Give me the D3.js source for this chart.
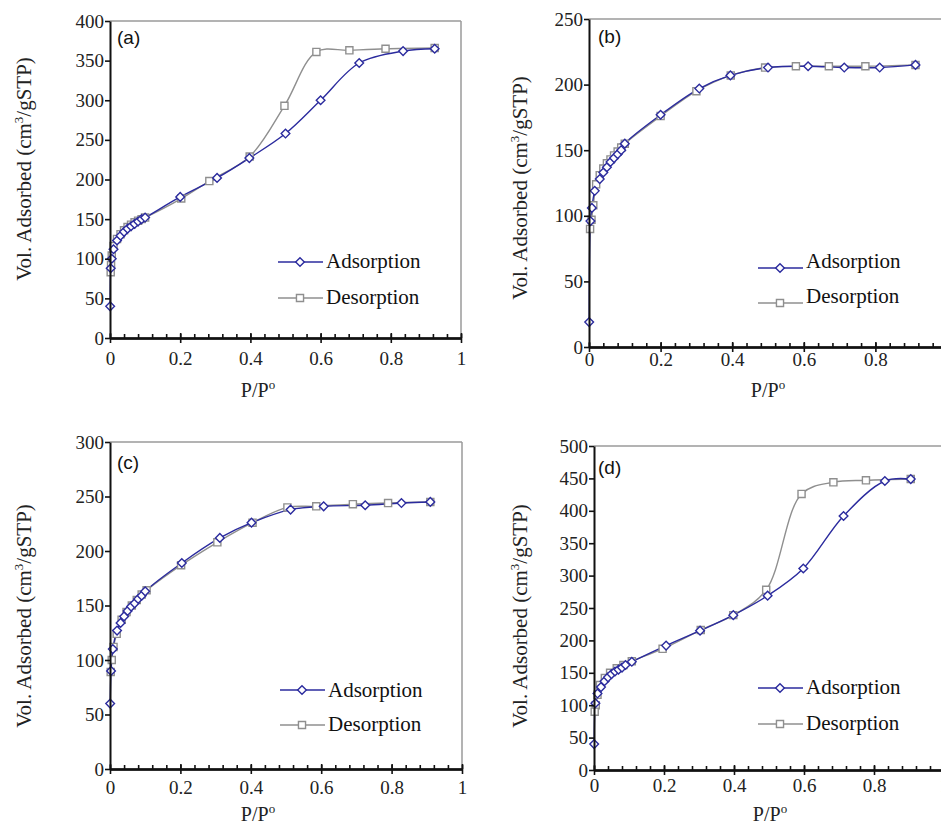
<!DOCTYPE html>
<html>
<head>
<meta charset="utf-8">
<script src="https://cdn.jsdelivr.net/npm/d3@7"></script>
<style>
html,body{margin:0;padding:0;background:#fff;}
svg{display:block;}
</style>
</head>
<body>
<svg id="chart" width="941" height="826"></svg>
<script>
// ---------- DATA ----------
const xTickValues = [0, 0.2, 0.4, 0.6, 0.8, 1];
const xTickLabels = ["0", "0.2", "0.4", "0.6", "0.8", "1"];
const seriesNames = ["Adsorption", "Desorption"];
const panelLabels = ["(a)", "(b)", "(c)", "(d)"];
const yMaxes = [400, 250, 300, 500];

// (a)
const aAdsP = [0.0005, 0.002, 0.005, 0.01, 0.02, 0.03, 0.04, 0.05, 0.06, 0.07, 0.08, 0.09, 0.1, 0.2, 0.305, 0.397, 0.5, 0.6, 0.71, 0.835, 0.925];
const aAdsV = [40, 88, 100, 112, 123, 129, 134, 138, 141, 144, 147, 150, 152, 178, 202, 227, 258, 300, 347, 362, 365];
const aDesP = [0.925, 0.785, 0.682, 0.588, 0.497, 0.398, 0.283, 0.203, 0.1, 0.09, 0.08, 0.07, 0.06, 0.05, 0.04, 0.03, 0.02, 0.01, 0.005, 0.003, 0.002];
const aDesV = [366, 365, 363, 361, 293, 229, 198, 176, 152, 150, 148, 146, 143, 140, 136, 131, 125, 116, 104, 92, 83];

// (b)
const bAdsP = [0.0005, 0.004, 0.008, 0.016, 0.03, 0.04, 0.05, 0.06, 0.07, 0.08, 0.09, 0.1, 0.2, 0.308, 0.395, 0.5, 0.612, 0.713, 0.812, 0.912];
const bAdsV = [19, 96, 106, 119, 128, 133, 137, 141, 144, 147, 150, 155, 177, 197, 207, 213, 214, 213, 213, 215];
const bDesP = [0.912, 0.772, 0.67, 0.578, 0.492, 0.396, 0.3, 0.2, 0.1, 0.09, 0.08, 0.07, 0.06, 0.05, 0.04, 0.03, 0.02, 0.012, 0.007, 0.003];
const bDesV = [215, 214, 214, 214, 213, 207, 195, 176, 155, 152, 149, 146, 143, 140, 136, 131, 124, 108, 97, 90];

// (c)
const cAdsP = [0.0005, 0.003, 0.008, 0.02, 0.03, 0.04, 0.05, 0.06, 0.07, 0.08, 0.09, 0.1, 0.204, 0.312, 0.402, 0.513, 0.607, 0.725, 0.828, 0.91];
const cAdsV = [60, 90, 110, 127, 134, 140, 145, 149, 152, 156, 159, 163, 189, 212, 226, 238, 241, 242, 244, 245];
const cDesP = [0.91, 0.79, 0.69, 0.586, 0.504, 0.405, 0.305, 0.202, 0.104, 0.09, 0.076, 0.062, 0.047, 0.033, 0.019, 0.01, 0.005, 0.002];
const cDesV = [245, 244, 243, 241, 240, 226, 208, 187, 164, 160, 155, 150, 144, 137, 124, 112, 100, 89];

// (d)
const dAdsP = [0.0005, 0.004, 0.01, 0.02, 0.03, 0.04, 0.05, 0.06, 0.07, 0.08, 0.09, 0.108, 0.206, 0.303, 0.398, 0.496, 0.598, 0.713, 0.831, 0.905];
const dAdsV = [40, 103, 118, 128, 137, 143, 148, 152, 155, 158, 162, 167, 192, 215, 239, 269, 311, 392, 446, 449];
const dDesP = [0.905, 0.777, 0.684, 0.593, 0.492, 0.398, 0.305, 0.196, 0.108, 0.084, 0.065, 0.046, 0.031, 0.017, 0.01, 0.005, 0.002];
const dDesV = [449, 447, 444, 426, 278, 239, 216, 187, 168, 162, 157, 150, 142, 131, 116, 100, 90];

// ---------- LAYOUT ----------
const BLUE = "#2b2b9e", GREY = "#8f8f8f";
const SERIF = '"Liberation Serif"';
const SANS = '"Liberation Sans"';

const layouts = [
  {x0:110, x1:461, yTop:21, yBot:338, xPad:9, xTitle:[258,397], yTitle:[24,169], lab:[117,44], leg:[278,262,36], legTxtDy:[6,6]},
  {x0:589, x1:947, yTop:19, yBot:347, xPad:1, xTitle:[768,397], yTitle:[520,188], lab:[598,43], leg:[758,268,35], legTxtDy:[0,0]},
  {x0:110, x1:462, yTop:442, yBot:769, xPad:7, xTitle:[258,821], yTitle:[24,616], lab:[117,469], leg:[280,690,35], legTxtDy:[7,6]},
  {x0:594, x1:944, yTop:446, yBot:770, xPad:4, xTitle:[770,821], yTitle:[520,616], lab:[598,474], leg:[758,688,36], legTxtDy:[6,6]}
];
const data = [
  [aAdsP, aAdsV, aDesP, aDesV],
  [bAdsP, bAdsV, bDesP, bDesV],
  [cAdsP, cAdsV, cDesP, cDesV],
  [dAdsP, dAdsV, dDesP, dDesV]
];

const svg = d3.select("#chart");
svg.append("rect").attr("width", 941).attr("height", 826).attr("fill", "#fff");

function diamond(sel, col) {
  return sel.append("path")
    .attr("d", d3.symbol().type(d3.symbolDiamond2).size(48)())
    .attr("fill", "#fff").attr("stroke", col).attr("stroke-width", 1.4);
}
function square(sel, col) {
  return sel.append("path")
    .attr("d", d3.symbol().type(d3.symbolSquare2).size(64)())
    .attr("fill", "#fff").attr("stroke", col).attr("stroke-width", 1.4);
}

layouts.forEach((L, i) => {
  const [adsP, adsV, desP, desV] = data[i];
  const x = d3.scaleLinear().domain([0, 1]).range([L.x0, L.x1]);
  const y = d3.scaleLinear().domain([0, yMaxes[i]]).range([L.yBot, L.yTop]);
  const g = svg.append("g");

  g.append("line").attr("x1", L.x0).attr("x2", L.x1).attr("y1", L.yTop).attr("y2", L.yTop)
    .attr("stroke", "#9a9a9a").attr("stroke-width", 1.5);
  g.append("line").attr("x1", L.x1).attr("x2", L.x1).attr("y1", L.yTop).attr("y2", L.yBot)
    .attr("stroke", "#9a9a9a").attr("stroke-width", 1.5);

  const ads = adsP.map((p, k) => [p, adsV[k]]);
  const des = desP.map((p, k) => [p, desV[k]]);
  const line = d3.line().x(d => x(d[0])).y(d => y(d[1])).curve(d3.curveCatmullRom.alpha(0.5));
  g.append("path").attr("d", line(des)).attr("fill", "none").attr("stroke", GREY).attr("stroke-width", 1.4);
  g.append("path").attr("d", line(ads)).attr("fill", "none").attr("stroke", BLUE).attr("stroke-width", 1.4);

  des.forEach(d => square(g, GREY).attr("transform", `translate(${x(d[0])},${y(d[1])})`));
  ads.forEach(d => diamond(g, BLUE).attr("transform", `translate(${x(d[0])},${y(d[1])})`));

  g.append("g").attr("transform", `translate(${L.x0},0)`)
    .call(d3.axisLeft(y).tickValues(d3.range(0, yMaxes[i] + 1, 50)).tickFormat(d3.format("d"))
      .tickSize(5).tickSizeOuter(0).tickPadding(1));
  g.append("g").attr("transform", `translate(0,${L.yBot})`)
    .call(d3.axisBottom(x).tickValues(xTickValues).tickFormat((d, k) => xTickLabels[k])
      .tickSize(5).tickSizeOuter(0).tickPadding(L.xPad));
  g.append("g").attr("transform", `translate(0,${L.yBot})`)
    .call(d3.axisTop(x).tickValues(d3.range(0, 1.0001, 0.04)).tickFormat("").tickSize(4).tickSizeOuter(0));
  g.append("g").attr("transform", `translate(0,${L.yBot})`)
    .call(d3.axisTop(x).tickValues(xTickValues).tickFormat("").tickSize(5).tickSizeOuter(0));

  g.selectAll(".domain").attr("stroke", "#111").attr("stroke-width", 2);
  g.selectAll(".tick line").attr("stroke", "#111").attr("stroke-width", 1.6);
  g.selectAll(".tick text").style("font-family", SERIF).style("font-size", "19px").attr("fill", "#222");

  const xt = g.append("text").attr("x", L.xTitle[0]).attr("y", L.xTitle[1])
    .attr("text-anchor", "middle").style("font-family", SERIF).style("font-size", "20px").attr("fill", "#222");
  xt.append("tspan").text("P/P");
  xt.append("tspan").text("o").style("font-size", "13px").attr("dy", -8);

  const yt = g.append("text").attr("transform", `translate(${L.yTitle[0]},${L.yTitle[1]}) rotate(-90)`)
    .attr("text-anchor", "middle").attr("dy", "0.35em").style("font-family", SERIF).style("font-size", "21px").attr("fill", "#222");
  yt.append("tspan").text("Vol. Adsorbed (cm");
  yt.append("tspan").text("3").style("font-size", "13px").attr("dy", -8);
  yt.append("tspan").text("/gSTP)").attr("dy", 8);

  g.append("text").attr("x", L.lab[0]).attr("y", L.lab[1]).text(panelLabels[i])
    .style("font-family", SANS).style("font-size", "19px").attr("fill", "#111");

  const [lx, ly, gap] = L.leg;
  const cols = [BLUE, GREY];
  seriesNames.forEach((nm, k) => {
    const yy = ly + k * gap;
    g.append("line").attr("x1", lx).attr("x2", lx + 45).attr("y1", yy).attr("y2", yy)
      .attr("stroke", cols[k]).attr("stroke-width", 1.5);
    const m = k === 0 ? diamond(g, cols[k]) : square(g, cols[k]);
    m.attr("transform", `translate(${lx + 22},${yy})`);
    g.append("text").attr("x", lx + 48).attr("y", yy + L.legTxtDy[k]).text(nm)
      .style("font-family", SERIF).style("font-size", "21px").attr("fill", "#111");
  });
});
</script>
</body>
</html>
